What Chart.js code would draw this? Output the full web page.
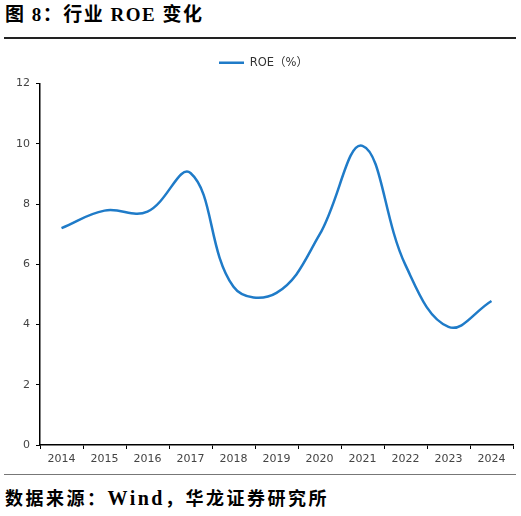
<!DOCTYPE html>
<html>
<head>
<meta charset="utf-8">
<script src="https://cdn.jsdelivr.net/npm/chart.js@4.4.1/dist/chart.umd.min.js"></script>
<style>
  body { margin: 0; background: #fff; width: 521px; height: 516px; position: relative; overflow: hidden; }
  .title { position: absolute; left: 5px; top: 3px; font: bold 19px "Liberation Serif", "Noto Sans CJK SC", serif; letter-spacing: 1.5px; color: #000; line-height: 24px; white-space: nowrap; }
  .rule { position: absolute; left: 4px; width: 512px; }
  .foot { position: absolute; left: 5px; top: 486px; font: bold 18px "Liberation Serif", "Noto Sans CJK SC", serif; letter-spacing: 2.5px; color: #000; line-height: 24px; white-space: nowrap; }
  .foot span { font-size: 20px; letter-spacing: 2.5px; }
  #box { position: absolute; left: 0; top: 45px; width: 521px; height: 425px; }
</style>
</head>
<body>
<div class="title">图 8：行业 ROE 变化</div>
<div class="rule" style="top:37px;height:1.5px;background:#222;"></div>
<div id="box"><canvas id="roeChart"></canvas></div>
<div class="rule" style="top:474px;height:1px;background:#777;"></div>
<div class="foot">数据来源：<span>Wind</span>，华龙证券研究所</div>
<script>
// data
const years = ['2014', '2015', '2016', '2017', '2018', '2019', '2020', '2021', '2022', '2023', '2024'];
const roe = [7.2, 7.78, 7.75, 9.03, 5.25, 5.05, 6.98, 9.93, 5.97, 3.92, 4.78];
const seriesName = 'ROE（%）';
const yTicks = [0, 2, 4, 6, 8, 10, 12];

const tickFont = { family: '"DejaVu Sans", "Noto Sans CJK SC", sans-serif', size: 11 };

// push the plot a few px below the legend, and nudge the legend a bit right
const legendTweak = {
    id: 'legendTweak',
    beforeInit(chart) {
        const legend = chart.legend;
        const fit = legend.fit;
        legend.fit = function () {
            fit.call(legend);
            this.height += 5;
        };
        const draw = legend.draw;
        legend.draw = function () {
            const c = this.ctx;
            c.save();
            c.translate(7, 0);
            draw.call(legend);
            c.restore();
        };
    }
};

var ctx = document.getElementById('roeChart').getContext('2d');
var chartInstanceRoe = new Chart(ctx, {
    type: 'line',
    data: {
        labels: years,
        datasets: [{
            label: seriesName,
            data: roe,
            borderColor: '#1f7bc8',
            backgroundColor: '#1f7bc8',
            borderWidth: 2.5,
            pointRadius: 0,
            tension: 0.4,
            fill: false
        }]
    },
    options: {
        responsive: true,
        maintainAspectRatio: false,
        animation: false,
        layout: { padding: { left: 0, right: 8, top: 0, bottom: 0 } },
        plugins: {
            tooltip: { enabled: false },
            legend: {
                position: 'top',
                labels: {
                    boxWidth: 25,
                    boxHeight: 2.5,
                    padding: 12,
                    color: '#333',
                    font: { family: tickFont.family, size: 11.5 },
                    generateLabels: chart => Chart.defaults.plugins.legend.labels.generateLabels(chart)
                        .map(l => Object.assign(l, { lineWidth: 0 }))
                }
            }
        },
        scales: {
            x: {
                offset: true,
                grid: {
                    offset: true,
                    drawOnChartArea: false,
                    drawTicks: true,
                    tickLength: 4,
                    color: '#000'
                },
                border: { color: '#000', width: 1.5 },
                ticks: { color: '#444', font: tickFont, padding: 4, maxRotation: 0, autoSkip: false },
                afterFit: axis => { axis.height = 25; }
            },
            y: {
                min: 0,
                max: 12,
                afterBuildTicks: axis => { axis.ticks = yTicks.map(v => ({ value: v })); },
                grid: {
                    drawOnChartArea: false,
                    drawTicks: true,
                    tickLength: 4,
                    color: '#000'
                },
                border: { color: '#000', width: 1.5 },
                ticks: { color: '#444', font: tickFont, padding: 6 },
                afterFit: axis => { axis.width = 40; }
            }
        }
    },
    plugins: [legendTweak]
});
</script>
</body>
</html>
